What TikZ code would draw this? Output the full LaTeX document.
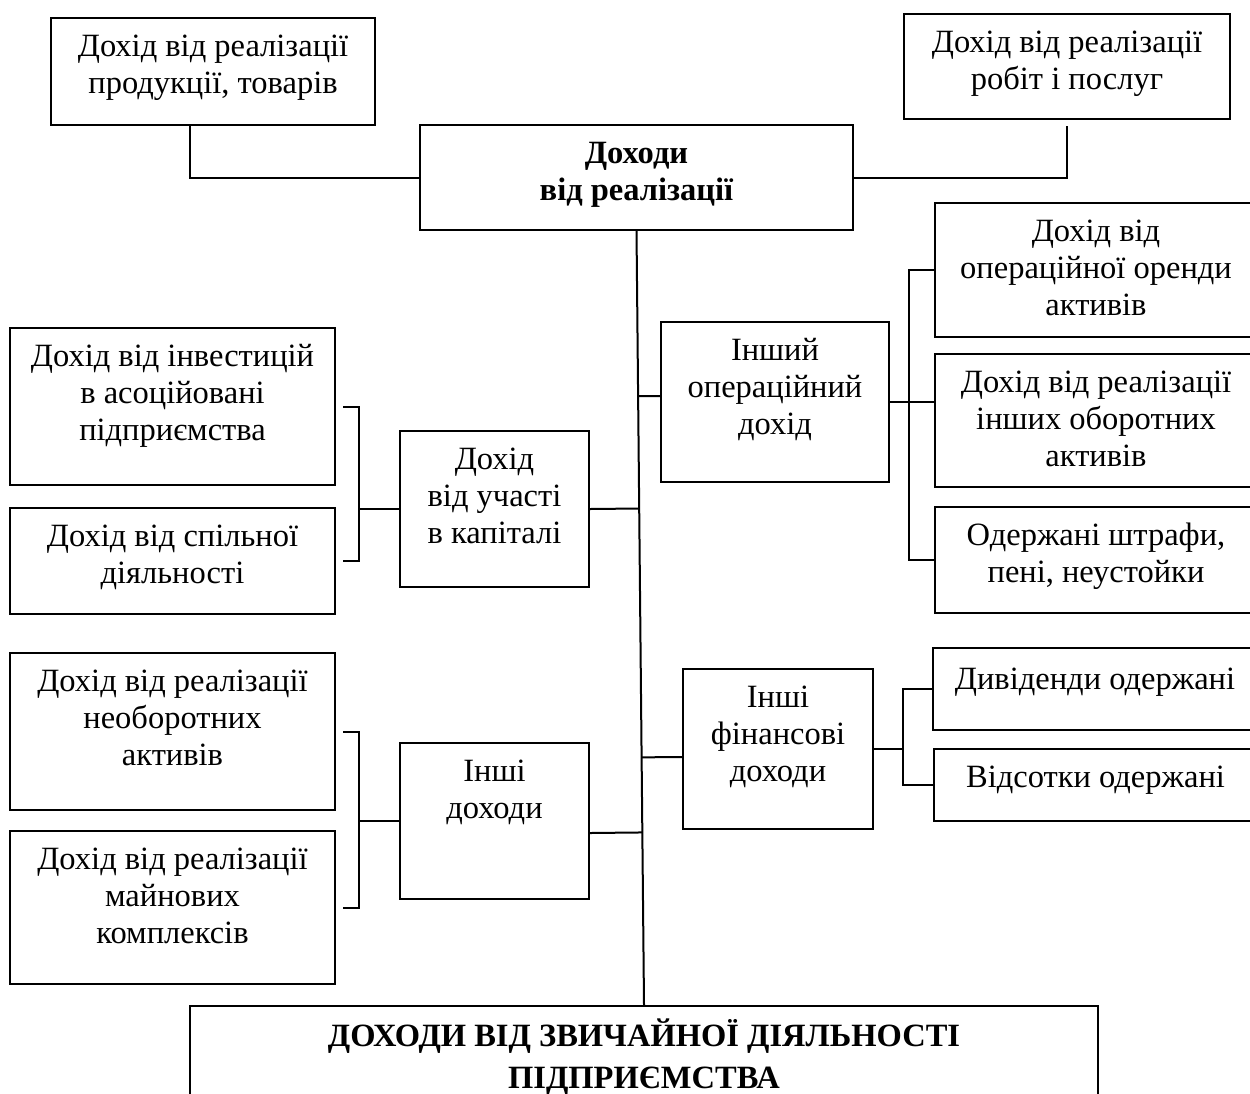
\documentclass[tikz,border=0pt]{standalone}
\usepackage{fontspec}
\setmainfont{Liberation Serif}
\usetikzlibrary{calc}

\tikzset{every picture/.style={line width=0.8pt}}
\tikzset{
  box/.style={draw, anchor=north, inner xsep=0pt, inner ysep=5pt, font=\fontsize{13}{14.8}\selectfont},
  boldbox/.style={box, font=\fontsize{13}{14.8}\selectfont\bfseries}
}
% text block of a box: width, height, lines
\newcommand{\bx}[3]{\parbox[c][#2][t]{#1}{\centering\strut #3}}

\begin{document}
\begin{tikzpicture}[x=0.4pt,y=-0.4pt]
  \useasboundingbox (0,0) rectangle (1250,1093);
  \clip (0,0) rectangle (1250,1093);

  %Shape: top boxes
  \node[box] (prod) at (213,17) {\bx{129.6pt}{32.8pt}{Дохід від реалізації\\продукції, товарів}};
  \node[box] (serv) at (1067,13) {\bx{130.4pt}{32pt}{Дохід від реалізації\\робіт і послуг}};
  \node[boldbox] (sales) at (636.5,124) {\bx{173.2pt}{32pt}{Доходи\\від реалізації}};

  %Shape: other operating income
  \node[box] (oper) at (775,321) {\bx{91.2pt}{54pt}{Інший\\операційний\\дохід}};
  \node[box] (rent) at (1096,202) {\bx{128.8pt}{43.6pt}{Дохід від\\операційної оренди\\активів}};
  \node[box] (curr) at (1096,353) {\bx{128.8pt}{43.2pt}{Дохід від реалізації\\інших оборотних\\активів}};
  \node[box] (fine) at (1096,506) {\bx{128.8pt}{32.4pt}{Одержані штрафи,\\пені, неустойки}};

  %Shape: capital participation
  \node[box] (invest) at (172.5,327) {\bx{130pt}{52.8pt}{Дохід від інвестицій\\в асоційовані\\підприємства}};
  \node[box] (joint) at (172.5,507) {\bx{130pt}{32.4pt}{Дохід від спільної\\діяльності}};
  \node[box] (part) at (494.5,430) {\bx{75.6pt}{52.4pt}{Дохід\\від участі\\в капіталі}};

  %Shape: other income
  \node[box] (fixed) at (172.5,652) {\bx{130pt}{52.8pt}{Дохід від реалізації\\необоротних\\активів}};
  \node[box] (prop) at (172.5,830) {\bx{130pt}{51.2pt}{Дохід від реалізації\\майнових\\комплексів}};
  \node[box] (other) at (494.5,742) {\bx{75.6pt}{52.4pt}{Інші\\доходи}};

  %Shape: other financial income
  \node[box] (fin) at (778,668) {\bx{76pt}{54pt}{Інші\\фінансові\\доходи}};
  \node[box, inner ysep=6.2pt] (divid) at (1095,647) {\bx{129.6pt}{20.4pt}{Дивіденди одержані}};
  \node[box] (inter) at (1095.5,748) {\bx{129.2pt}{18.8pt}{Відсотки одержані}};

  %Shape: total
  \node[box, inner ysep=0pt, font=\fontsize{13}{16.8}\selectfont\bfseries] (total) at (644,1005)
    {\parbox[c][50pt][t]{363.2pt}{\centering\rule{0pt}{16pt}ДОХОДИ ВІД ЗВИЧАЙНОЇ ДІЯЛЬНОСТІ\\ПІДПРИЄМСТВА}};

  %Straight Lines: top
  \draw ([xshift=-9.2pt]prod.south) |- (sales.west);
  \draw ([yshift=-2.4pt]serv.south) |- (sales.east);

  %Straight Lines: spine and branches
  \draw (sales.south) -- (total.north);
  \draw ([yshift=2.4pt]oper.west) -- ($(sales.south)!([yshift=2.4pt]oper.west)!(total.north)$);
  \draw (part.east) -- ($(sales.south)!(part.east)!(total.north)$);
  \draw ([yshift=-4.8pt]other.east) -- ($(sales.south)!([yshift=-4.8pt]other.east)!(total.north)$);
  \draw ([yshift=-3.2pt]fin.west) -- ($(sales.south)!([yshift=-3.2pt]fin.west)!(total.north)$);

  %Straight Lines: brackets left
  \coordinate (lbr1) at ([xshift=9.2pt]invest.east);
  \draw ([xshift=2.8pt]invest.east) -| (lbr1) |- ([xshift=2.8pt]joint.east);
  \draw (part.west) -- (part.west -| lbr1);
  \coordinate (lbr2) at ([xshift=9.2pt]fixed.east);
  \draw ([xshift=2.8pt]fixed.east) -| (lbr2) |- ([xshift=2.8pt]prop.east);
  \draw (other.west) -- (other.west -| lbr2);

  %Straight Lines: brackets right
  \coordinate (rbr1) at ([xshift=-10pt]rent.west);
  \draw (rent.west) -| (rbr1) |- (fine.west);
  \draw (oper.east) -- (oper.east -| curr.west);
  \coordinate (rbr2) at ([xshift=-11.6pt]divid.west);
  \draw (divid.west) -| (rbr2) |- (inter.west);
  \draw (fin.east) -- (fin.east -| rbr2);

\end{tikzpicture}
\end{document}
